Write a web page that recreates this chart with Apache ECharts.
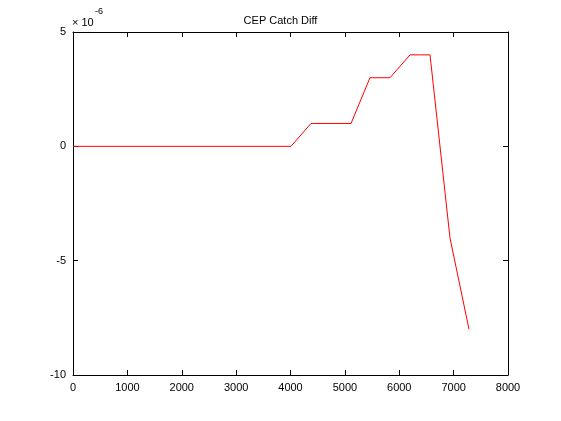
<!DOCTYPE html>
<html>
<head>
<meta charset="utf-8">
<script src="https://cdn.jsdelivr.net/npm/echarts@6/dist/echarts.min.js"></script>
<style>
  html, body { margin: 0; padding: 0; background: #fff; }
  #chart { width: 561px; height: 421px; }
</style>
</head>
<body>
<div id="chart"></div>
<script>
// iteration vs. difference (y in units of 1e-6)
const xValues = [0, 4009, 4377, 5113, 5462, 5830, 6198, 6566, 6933, 7283]
const yValues = [0, 0, 1, 1, 3, 3, 4, 4, -4, -8]
const xTicks = [0, 1000, 2000, 3000, 4000, 5000, 6000, 7000, 8000]
const yTicks = [-10, -5, 0, 5]

const font = 'Liberation Sans'
const chart = echarts.init(document.getElementById('chart'), null, { renderer: 'canvas' })

const axisLine = { show: true, onZero: false, lineStyle: { color: '#000', width: 1 } }
const axisTick = { show: true, inside: true, length: 5, lineStyle: { color: '#000' } }

chart.setOption({
  animation: false,
  backgroundColor: '#fff',
  title: {
    text: 'CEP Catch Diff',
    left: 'center',
    top: 10,
    textStyle: { fontFamily: font, fontSize: 11, fontWeight: 'normal', color: '#000' }
  },
  grid: { left: 73, right: 53, top: 32, bottom: 46 },
  xAxis: [{
    type: 'value',
    min: 0,
    max: 8000,
    interval: 1000,
    axisLine,
    axisTick,
    splitLine: { show: false },
    axisLabel: {
      margin: 7,
      color: '#000',
      fontFamily: font,
      fontSize: 11,
      formatter: v => xTicks.includes(v) ? String(v) : ''
    }
  }, {
    type: 'value',
    position: 'top',
    min: 0,
    max: 8000,
    interval: 1000,
    axisLine,
    axisTick,
    splitLine: { show: false },
    axisLabel: { show: false }
  }],
  yAxis: [{
    type: 'value',
    min: -10,
    max: 5,
    interval: 5,
    axisLine,
    axisTick,
    splitLine: { show: false },
    axisLabel: {
      margin: 7,
      color: '#000',
      fontFamily: font,
      fontSize: 11,
      formatter: v => yTicks.includes(v) ? String(v) : ''
    }
  }, {
    type: 'value',
    position: 'right',
    min: -10,
    max: 5,
    interval: 5,
    axisLine,
    axisTick,
    splitLine: { show: false },
    axisLabel: { show: false }
  }],
  graphic: [{
    type: 'text',
    left: 72,
    top: 17,
    style: { text: '× 10', font: '11px "Liberation Sans"', fill: '#000' }
  }, {
    type: 'text',
    left: 95,
    top: 7,
    style: { text: '-6', font: '9px "Liberation Sans"', fill: '#000' }
  }],
  series: [{
    type: 'line',
    data: xValues.map((x, i) => [x, yValues[i]]),
    showSymbol: false,
    lineStyle: { color: '#ff0000', width: 1 },
    itemStyle: { color: '#ff0000' }
  }]
})
</script>
</body>
</html>
